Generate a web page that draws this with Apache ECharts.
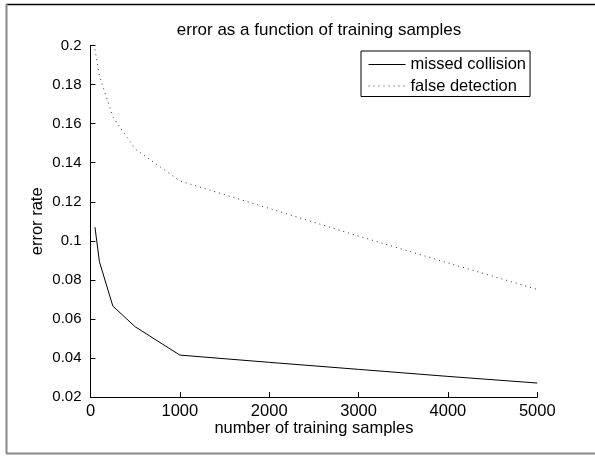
<!DOCTYPE html>
<html>
<head>
<meta charset="utf-8">
<script src="https://cdn.jsdelivr.net/npm/echarts@6/dist/echarts.min.js"></script>
<style>
  html, body { margin: 0; padding: 0; background: #fff; }
  #chart { width: 595px; height: 456px; }
</style>
</head>
<body>
<div id="chart"></div>
<script>
// training sample counts
const samples = [50, 100, 250, 500, 1000, 2000, 3000, 4000, 5000];
// error rates
const missedCollision = [0.107, 0.0893, 0.0666, 0.056, 0.0415, 0.0378, 0.0342, 0.0306, 0.0272];
const falseDetection = [0.198, 0.1845, 0.1635, 0.147, 0.1307, 0.1166, 0.1024, 0.0887, 0.0751];
const seriesNames = ['missed collision', 'false detection'];

const FONT = '"Liberation Sans", Arial, Helvetica, sans-serif';

const chart = echarts.init(document.getElementById('chart'), null, { renderer: 'canvas' });

const toPairs = (xs, ys) => xs.map((x, i) => [x, ys[i]]);

chart.setOption({
  animation: false,
  backgroundColor: '#fff',
  textStyle: { fontFamily: FONT, color: '#000' },
  title: {
    text: 'error as a function of training samples',
    left: 314,
    textAlign: 'center',
    top: 17,
    textStyle: { fontFamily: FONT, fontSize: 17, fontWeight: 'normal', color: '#000' }
  },
  grid: { left: 90.5, right: 57.7, top: 45.5, bottom: 58.9 },
  legend: {
    orient: 'vertical',
    left: 361,
    top: 51,
    padding: [5, 4, 2, 7],
    itemWidth: 37,
    itemHeight: 14,
    itemGap: 4.5,
    borderColor: '#000',
    borderWidth: 1,
    backgroundColor: '#fff',
    itemStyle: { opacity: 0 },
    lineStyle: { width: 1 },
    textStyle: { fontFamily: FONT, fontSize: 16.5, color: '#000' },
    data: seriesNames
  },
  xAxis: {
    type: 'value',
    min: 0,
    max: 5000,
    interval: 1000,
    name: 'number of training samples',
    nameLocation: 'middle',
    nameGap: 23,
    nameMoveOverlap: false,
    nameTextStyle: { fontFamily: FONT, fontSize: 16.5, color: '#000' },
    axisLine: { lineStyle: { color: '#000', width: 1 } },
    axisTick: { inside: true, length: 5, lineStyle: { color: '#000' } },
    axisLabel: { fontFamily: FONT, fontSize: 16.5, color: '#000', margin: 6, formatter: v => String(v) },
    splitLine: { show: false }
  },
  yAxis: {
    type: 'value',
    min: 0.02,
    max: 0.2,
    interval: 0.02,
    name: 'error rate',
    nameLocation: 'middle',
    nameGap: 45,
    nameMoveOverlap: false,
    nameTextStyle: { fontFamily: FONT, fontSize: 16.5, color: '#000' },
    axisLine: { show: true, lineStyle: { color: '#000', width: 1 } },
    axisTick: { show: true, inside: true, length: 5, lineStyle: { color: '#000' } },
    axisLabel: {
      fontFamily: FONT, fontSize: 15, color: '#000', margin: 9,
      formatter: v => String(Math.round(v * 100) / 100)
    },
    splitLine: { show: false }
  },
  series: [
    {
      name: seriesNames[0],
      type: 'line',
      symbol: 'none',
      data: toPairs(samples, missedCollision),
      lineStyle: { color: '#000', width: 1 },
      itemStyle: { color: '#000' }
    },
    {
      name: seriesNames[1],
      type: 'line',
      symbol: 'none',
      data: toPairs(samples, falseDetection),
      lineStyle: { color: '#333', width: 1, type: [1, 4] },
      itemStyle: { color: '#333' }
    }
  ],
  graphic: [
    { type: 'line', shape: { x1: 6, y1: 4.5, x2: 595, y2: 4.5 }, style: { stroke: '#000', lineWidth: 1.5 }, silent: true },
    { type: 'line', shape: { x1: 6.5, y1: 4, x2: 6.5, y2: 453.5 }, style: { stroke: '#888', lineWidth: 2 }, silent: true },
    { type: 'line', shape: { x1: 6, y1: 453.5, x2: 595, y2: 453.5 }, style: { stroke: '#888', lineWidth: 2 }, silent: true }
  ]
});
</script>
</body>
</html>
